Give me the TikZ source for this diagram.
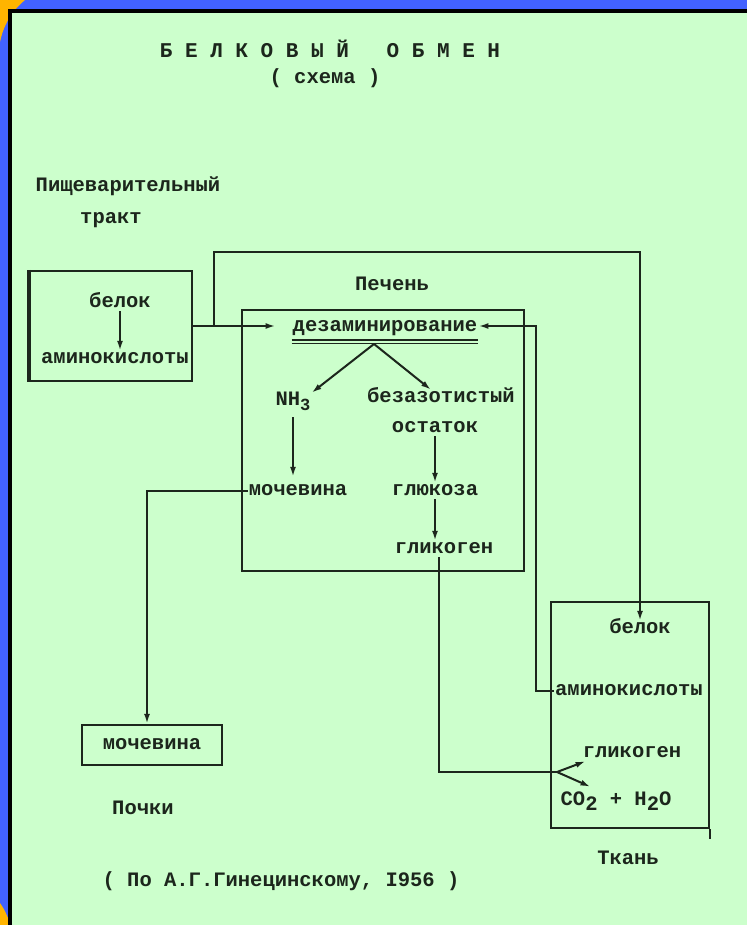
\documentclass[tikz,border=0pt]{standalone}
\usepackage{fontspec}
\setmainfont{Liberation Mono}
\usetikzlibrary{arrows.meta,calc}
\definecolor{ink}{HTML}{1C261C}
\definecolor{paper}{HTML}{CCFFCC}
\definecolor{slideblue}{HTML}{4262FF}
\definecolor{corner}{HTML}{FFB400}
\tikzset{
  txt/.style={font=\fontsize{20.5}{24}\selectfont\bfseries,text=ink,inner sep=1pt,text height=11pt,text depth=3pt},
  organ/.style={draw=ink,line width=2.3pt},
  flow/.style={-{Latex[length=10pt,width=6pt]},line width=2pt,draw=ink},
  wire/.style={line width=2pt,draw=ink}
}
\begin{document}
\begin{tikzpicture}[x=1pt,y=-1pt]
  \useasboundingbox (0,0) rectangle (747,925);
  % slide background
  \fill[slideblue] (0,0) rectangle (747,925);
  \fill[corner] (0,0) -- (25,0) .. controls (15,8) and (4,22) .. (0,42) -- cycle;
  \fill[corner] (0,903) .. controls (4,909) .. (8,918) -- (8,925) -- (0,925) -- cycle;
  \fill[paper] (10,11) rectangle (747,925);
  \draw[black,line width=4pt] (10,925) -- (10,11) -- (747,11);

  % headings
  \node[txt,font=\fontsize{21}{24}\selectfont\bfseries] (title) at (330,54) {Б\ Е\ Л\ К\ О\ В\ Ы\ Й\ \ \ О\ Б\ М\ Е\ Н};
  \node[txt] (subtitle) at (325,80) {(\ схема\ )};
  \node[txt] (gutlbl) at (128,188) {Пищеварительный};
  \node[txt] (gutlbl2) at (111,220) {тракт};
  \node[txt] (liverlbl) at (392,286) {Печень};
  \node[txt] (kidneylbl) at (143,810) {Почки};
  \node[txt] (tissuelbl) at (628,860) {Ткань};
  \node[txt] (source) at (281,882) {(\ По\ А.Г.Гинецинскому,\ I956\ )};

  % organ boxes
  \node[organ,minimum width=162,minimum height=110] (gut) at (111,326) {};
  \draw[ink,line width=4.5pt] (gut.north west) -- (gut.south west);
  \node[organ,minimum width=282,minimum height=261] (liver) at (383,440.5) {};
  \node[organ,minimum width=158,minimum height=226] (tissue) at (630,715) {};
  \draw[organ] (tissue.south east) -- ++(0,10);
  \node[txt,organ,minimum width=140,minimum height=40] (kidney) at (152,745) {мочевина};

  % substances
  \node[txt] (belok1) at (120,303) {белок};
  \node[txt] (amino1) at (115,359) {аминокислоты};
  \node[txt] (deam) at (385,327) {дезаминирование};
  \node[txt] (nh3) at (293,401) {NH\raisebox{-5pt}{\fontsize{17}{17}\selectfont 3}};
  \node[txt] (bezaz) at (441,398) {безазотистый};
  \node[txt] (ostat) at (435,428) {остаток};
  \node[txt] (gluc) at (435,491) {глюкоза};
  \node[txt] (glyc1) at (444,549) {гликоген};
  \node[txt] (urea1) at (298,491) {мочевина};
  \node[txt] (belok2) at (640,629) {белок};
  \node[txt] (amino2) at (629,691) {аминокислоты};
  \node[txt] (glyc2) at (632,753) {гликоген};
  \node[txt] (co2) at (616,801) {CO\raisebox{-5pt}{2} + H\raisebox{-5pt}{2}O};

  \coordinate (split) at (374,344);
  \coordinate (upleft) at (214,252);
  \coordinate (upright) at (640,252);
  \coordinate (rtrunk) at (536,500);
  \coordinate (fork) at (557,772);

  % connectors
  \draw[flow] (belok1.south) -- (belok1.south |- amino1.north);
  \draw[flow,shorten >=16pt] (gut.east) -- (deam.west |- gut.east);
  \draw[flow] (upleft |- gut.east) -- (upleft) -- (upright) -- (belok2.north);
  \draw[flow] (amino2.west) -| (rtrunk) |- (deam.east |- gut.east);
  \draw[wire] ($(deam.south west)+(0,5)$) -- ($(deam.south east)+(0,5)$);
  \draw[wire,line width=1.2pt] ($(deam.south west)+(0,8)$) -- ($(deam.south east)+(0,8)$);
  \draw[flow] (split) -- (nh3.north east);
  \draw[flow] (split) -- ($(bezaz.north)+(-10,0)$);
  \draw[flow,shorten <=8pt,shorten >=6pt] (nh3.south) -- (nh3.south |- urea1.north);
  \draw[flow] (ostat.south) -- (ostat.south |- gluc.north);
  \draw[flow] (gluc.south) -- (gluc.south |- glyc1.north);
  \draw[flow] (urea1.west) -| ($(kidney.north)+(-5,0)$);
  \draw[wire] ($(glyc1.south)+(-5,0)$) |- (fork);
  \draw[flow] (fork) -- ($(glyc2.south west)+(4,0)$);
  \draw[flow] (fork) -- ($(co2.north west)+(31,-6)$);
\end{tikzpicture}
\end{document}
